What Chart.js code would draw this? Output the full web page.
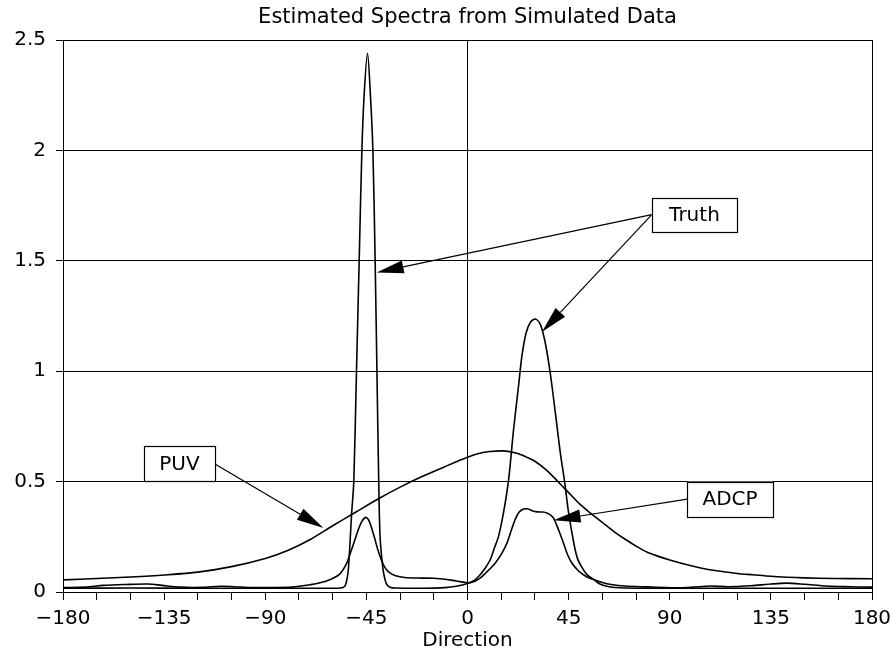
<!DOCTYPE html>
<html>
<head>
<meta charset="utf-8">
<script src="https://cdn.jsdelivr.net/npm/chart.js@4.4.0/dist/chart.umd.min.js"></script>
<style>
  html, body { margin: 0; padding: 0; background: #fff; }
  #wrap { width: 896px; height: 659px; }
</style>
</head>
<body>
<div id="wrap"><canvas id="spectra" width="896" height="659"></canvas></div>
<script>
const FONT_FAMILY = '"DejaVu Sans", "Liberation Sans", sans-serif';
const chartTitle = 'Estimated Spectra from Simulated Data';
const xAxisTitle = 'Direction';

// Direction axis: minor ticks every 15 deg, labels every 45 deg
const directionTicks = [-180, -165, -150, -135, -120, -105, -90, -75, -60, -45, -30, -15,
  0, 15, 30, 45, 60, 75, 90, 105, 120, 135, 150, 165, 180];
const directionLabelValues = [-180, -135, -90, -45, 0, 45, 90, 135, 180];
const directionLabels = ['\u2212180', '\u2212135', '\u221290', '\u221245', '0', '45', '90', '135', '180'];

// Spectral density axis
const densityTicks = [0, 0.5, 1, 1.5, 2, 2.5];
const densityLabels = ['0', '0.5', '1', '1.5', '2', '2.5'];

// Truth spectrum: two narrow peaks
const truthDir = [-180, -150, -120, -90, -70, -60, -56.5, -55.5, -54.5, -53.8, -53.1, -52.4, -51.6,
  -50.6, -49.4, -48.2, -47.0, -46.0, -44.5, -43.2, -42.1, -41.1, -40.3, -39.5, -38.9, -37.7, -36.8,
  -35.9, -34.5, -32, -20, -10, -5, 0, 3, 5.6, 8, 10.1, 12, 13.8, 16, 18.3, 20.5, 22.7, 24.2, 26.1,
  28, 30.2, 32.4, 34.6, 36.8, 39.1, 41.3, 43.2, 45, 47.6, 49, 51, 53, 55, 56.5, 58, 60, 63, 68,
  80, 120, 150, 180];
const truthVal = [0.017, 0.018, 0.017, 0.017, 0.017, 0.017, 0.018, 0.02, 0.028, 0.05, 0.094, 0.2, 0.35,
  0.5, 1.0, 1.5, 2.0, 2.25, 2.44, 2.25, 2.0, 1.5, 1.0, 0.5, 0.25, 0.11, 0.06,
  0.034, 0.022, 0.018, 0.017, 0.02, 0.026, 0.038, 0.052, 0.078, 0.11, 0.146, 0.2, 0.252, 0.358, 0.509, 0.736, 0.932, 1.068, 1.174,
  1.222, 1.236, 1.212, 1.129, 0.993, 0.811, 0.63, 0.5, 0.358, 0.206, 0.15, 0.11, 0.08, 0.065, 0.055, 0.042, 0.032, 0.024, 0.019,
  0.017, 0.017, 0.017, 0.017];

// ADCP estimate
const adcpDir = [-180, -170, -162, -152, -142, -136, -128, -118, -110, -104, -96, -86, -78, -74, -70,
  -66, -61, -57, -54, -52, -50, -48.5, -47, -45.3, -44, -43, -41.5, -40, -38.5, -37, -35, -32, -28,
  -20, -15, -10, -5, 0, 3, 5.6, 8, 10, 12.3, 15, 17.5, 19.5, 21.2, 23, 25, 27, 29, 31, 33.5, 35.3,
  37, 38.3, 40, 41.5, 42.7, 44.5, 46.5, 48.5, 50, 53, 56, 60, 64, 70, 80, 88, 93, 100, 108, 116,
  126, 135, 142, 150, 160, 170, 180];
const adcpVal = [0.02, 0.022, 0.03, 0.034, 0.036, 0.03, 0.022, 0.021, 0.026, 0.024, 0.02, 0.02, 0.022, 0.027, 0.033,
  0.041, 0.057, 0.08, 0.125, 0.18, 0.24, 0.285, 0.32, 0.338, 0.326, 0.3, 0.25, 0.195, 0.15, 0.115, 0.09, 0.074, 0.066,
  0.063, 0.062, 0.058, 0.05, 0.042, 0.048, 0.063, 0.085, 0.105, 0.13, 0.17, 0.22, 0.28, 0.328, 0.362, 0.376, 0.376, 0.367, 0.363, 0.362, 0.358,
  0.348, 0.335, 0.295, 0.255, 0.222, 0.17, 0.13, 0.105, 0.09, 0.069, 0.057, 0.043, 0.034, 0.027, 0.023, 0.02, 0.019, 0.022, 0.027, 0.024,
  0.028, 0.036, 0.04, 0.035, 0.027, 0.024, 0.022];

// PUV estimate: broad single hump
const puvDir = [-180, -165, -150, -135, -120, -105, -90, -80, -70, -60, -50, -40, -30, -20, -10,
  0, 5, 10, 16, 22, 26, 30, 35, 40, 45, 50, 55, 60, 65, 70, 75, 80, 90,
  100, 110, 120, 127, 135, 142, 150, 163, 180];
const puvVal = [0.055, 0.061, 0.068, 0.077, 0.09, 0.115, 0.152, 0.188, 0.238, 0.3, 0.36, 0.42, 0.475, 0.524, 0.568,
  0.61, 0.627, 0.636, 0.639, 0.628, 0.612, 0.592, 0.553, 0.503, 0.45, 0.398, 0.355, 0.315, 0.275, 0.24, 0.208, 0.18, 0.145,
  0.118, 0.097, 0.084, 0.078, 0.071, 0.067, 0.064, 0.061, 0.06];

// Labelled callouts, placed in data units (direction, density)
const callouts = [
  { text: 'Truth', box: [82, 120, 1.632, 1.786], side: 'left', targets: [[-40.4, 1.447], [33.1, 1.177]] },
  { text: 'PUV', box: [-144, -112.4, 0.5, 0.66], side: 'right', targets: [[-64.1, 0.29]] },
  { text: 'ADCP', box: [97.8, 135.9, 0.342, 0.5], side: 'left', targets: [[38.3, 0.325]] }
];

const toPoints = (xs, ys) => xs.map((x, i) => ({ x: x, y: ys[i] }));
const frameValues = [-180, 0, 180];

function drawArrow(ctx, x1, y1, x2, y2) {
  const ang = Math.atan2(y2 - y1, x2 - x1);
  const len = 27, half = 6.5;
  const bx = x2 - len * Math.cos(ang), by = y2 - len * Math.sin(ang);
  ctx.beginPath();
  ctx.moveTo(x1, y1);
  ctx.lineTo(bx, by);
  ctx.stroke();
  ctx.beginPath();
  ctx.moveTo(x2, y2);
  ctx.lineTo(bx + half * Math.sin(ang), by - half * Math.cos(ang));
  ctx.lineTo(bx - half * Math.sin(ang), by + half * Math.cos(ang));
  ctx.closePath();
  ctx.fill();
}

// Title centred over the plot area, plus the boxed labels with arrows
const annotationPlugin = {
  id: 'annotations',
  afterDraw(chart) {
    const { ctx, chartArea } = chart;
    ctx.save();
    ctx.fillStyle = '#000';
    ctx.font = '21px ' + FONT_FAMILY;
    ctx.textAlign = 'center';
    ctx.textBaseline = 'middle';
    ctx.fillText(chartTitle, (chartArea.left + chartArea.right) / 2, chartArea.top - 22);
    ctx.restore();
  },
  afterDatasetsDraw(chart) {
    const { ctx } = chart;
    const xs = chart.scales.x, ys = chart.scales.y;
    ctx.save();
    ctx.strokeStyle = '#000';
    ctx.fillStyle = '#000';
    ctx.lineWidth = 1.2;
    for (const c of callouts) {
      const left = xs.getPixelForValue(c.box[0]);
      const right = xs.getPixelForValue(c.box[1]);
      const bottom = ys.getPixelForValue(c.box[2]);
      const top = ys.getPixelForValue(c.box[3]);
      const sx = c.side === 'left' ? left : right;
      const sy = (top + bottom) / 2;
      for (const t of c.targets) {
        drawArrow(ctx, sx, sy, xs.getPixelForValue(t[0]), ys.getPixelForValue(t[1]));
      }
      ctx.fillStyle = '#fff';
      ctx.fillRect(left, top, right - left, bottom - top);
      ctx.strokeRect(Math.round(left) + 0.5, Math.round(top) + 0.5, Math.round(right - left), Math.round(bottom - top));
      ctx.fillStyle = '#000';
      ctx.font = '20px ' + FONT_FAMILY;
      ctx.textAlign = 'center';
      ctx.textBaseline = 'middle';
      ctx.fillText(c.text, (left + right) / 2, sy + 1);
    }
    ctx.restore();
  }
};

const tickFont = { family: FONT_FAMILY, size: 20 };

new Chart(document.getElementById('spectra'), {
  type: 'line',
  data: {
    datasets: [
      { label: 'Truth', data: toPoints(truthDir, truthVal) },
      { label: 'ADCP', data: toPoints(adcpDir, adcpVal) },
      { label: 'PUV', data: toPoints(puvDir, puvVal) }
    ]
  },
  options: {
    responsive: false,
    animation: false,
    devicePixelRatio: 1,
    layout: { padding: { top: 40, right: 24, bottom: 0, left: 0 } },
    elements: {
      point: { radius: 0 },
      line: { borderColor: '#000', borderWidth: 1.6, fill: false, tension: 0.3 }
    },
    plugins: {
      legend: { display: false },
      tooltip: { enabled: false },
      title: { display: false }
    },
    scales: {
      x: {
        type: 'linear',
        min: -180,
        max: 180,
        afterFit(scale) {
          scale.height = 67;
          scale.paddingLeft = 0;
          scale.paddingRight = 0;
        },
        afterBuildTicks(scale) { scale.ticks = directionTicks.map(v => ({ value: v })); },
        ticks: {
          autoSkip: false,
          maxRotation: 0,
          color: '#000',
          font: tickFont,
          padding: 7,
          callback(value) {
            const i = directionLabelValues.indexOf(value);
            return i >= 0 ? directionLabels[i] : '';
          }
        },
        grid: {
          drawTicks: true,
          tickLength: 8,
          tickColor: '#000',
          lineWidth: 1,
          color(ctx) {
            return ctx.tick && frameValues.includes(ctx.tick.value) ? '#000' : 'rgba(0,0,0,0)';
          }
        },
        border: { display: true, color: '#000', width: 1 },
        title: {
          display: true,
          text: xAxisTitle,
          color: '#000',
          font: { family: FONT_FAMILY, size: 20 },
          padding: { top: 0, bottom: 6 }
        }
      },
      y: {
        min: 0,
        max: 2.5,
        afterFit(scale) { scale.width = 63; },
        afterBuildTicks(scale) { scale.ticks = densityTicks.map(v => ({ value: v })); },
        ticks: {
          color: '#000',
          font: tickFont,
          padding: 10,
          callback(value, index) { return densityLabels[index]; }
        },
        grid: { color: '#000', lineWidth: 1, tickLength: 7, tickColor: '#000' },
        border: { display: true, color: '#000', width: 1 }
      }
    }
  },
  plugins: [annotationPlugin]
});
</script>
</body>
</html>
